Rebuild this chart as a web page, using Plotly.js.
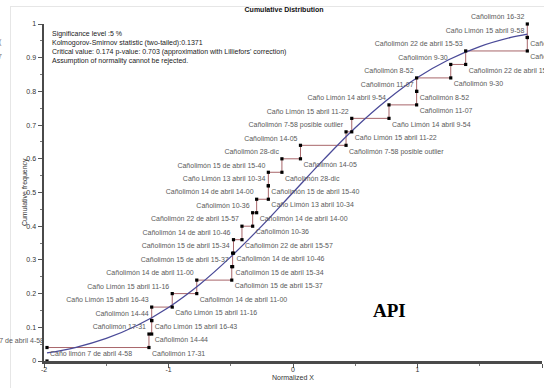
<!DOCTYPE html>
<html>
<head>
<meta charset="utf-8">
<script src="https://cdn.plot.ly/plotly-3.0.1.min.js"></script>
<style>
html,body{margin:0;padding:0;background:#fff;overflow:hidden;width:544px;height:388px}
#frame{position:absolute;left:10px;top:6px;width:600px;height:420px;border:1px solid #e6e6e6}
#chart{position:absolute;left:0;top:0;width:544px;height:388px}
</style>
</head>
<body>
<div id="frame"></div>
<div id="chart"></div>
<script>
// Observations, in increasing order of normalized value
const pointLabels = [
  "Caño limón 7 de abril 4-58",
  "Cañolimón 17-31",
  "Cañolimón 14-44",
  "Caño Limón 15 abril 16-43",
  "Caño Limón 15 abril 11-16",
  "Cañolimón 14 de abril 11-00",
  "Cañolimón 15 de abril 15-37",
  "Cañolimón 15 de abril 15-34",
  "Cañolimón 14 de abril 10-46",
  "Cañolimón 22 de abril 15-57",
  "Cañolimón 10-36",
  "Cañolimón 14 de abril 14-00",
  "Caño Limón 13 abril 10-34",
  "Cañolimón 15 de abril 15-40",
  "Cañolimón 28-dic",
  "Cañolimón 14-05",
  "Cañolimón 7-58 posible outlier",
  "Caño Limón 15 abril 11-22",
  "Caño Limón 14 abril 9-54",
  "Cañolimón 11-07",
  "Cañolimón 8-52",
  "Cañolimón 9-30",
  "Cañolimón 22 de abril 15-53",
  "Caño Limón 15 abril 9-58",
  "Cañolimón 16-32"
];
const normX = [-1.976, -1.157, -1.135, -1.135, -0.970, -0.773, -0.492, -0.485, -0.478, -0.410,
               -0.324, -0.292, -0.198, -0.198, -0.089, 0.060, 0.426, 0.472, 0.771, 0.993,
               0.993, 1.267, 1.387, 1.882, 1.882];
const cumFreq = [0.04, 0.08, 0.12, 0.16, 0.20, 0.24, 0.28, 0.32, 0.36, 0.40,
                 0.44, 0.48, 0.52, 0.56, 0.60, 0.64, 0.68, 0.72, 0.76, 0.80,
                 0.84, 0.88, 0.92, 0.96, 1.00];
const prevFreq = [0.00, 0.04, 0.08, 0.12, 0.16, 0.20, 0.24, 0.28, 0.32, 0.36,
                  0.40, 0.44, 0.48, 0.52, 0.56, 0.60, 0.64, 0.68, 0.72, 0.76,
                  0.80, 0.84, 0.88, 0.92, 0.96];
// Theoretical (normal) distribution function
const curveX = [-1.976, -1.75, -1.5, -1.25, -1.0, -0.75, -0.5, -0.25, 0.0, 0.25, 0.5, 0.75, 1.0, 1.25, 1.5, 1.75, 1.882];
const curveY = [0.024, 0.040, 0.067, 0.106, 0.159, 0.227, 0.309, 0.401, 0.500, 0.599, 0.692, 0.773, 0.841, 0.894, 0.933, 0.960, 0.970];
const statLines = [
  "Significance level :5 %",
  "Kolmogorov-Smirnov statistic (two-tailed):0.1371",
  "Critical value: 0.174 p-value: 0.703 (approximation with Lilliefors' correction)",
  "Assumption of normality cannot be rejected."
];
const xTicks = [-2, -1, 0, 1, 2];

// step function of the empirical distribution
const stepX = [normX[0]], stepY = [cumFreq[0]];
for (let i = 1; i < normX.length; i++) {
  stepX.push(normX[i]); stepY.push(prevFreq[i]);
  stepX.push(normX[i]); stepY.push(cumFreq[i]);
}
const bottomPos = normX.map((v, i) => i === 0 ? 'top right' : 'bottom right');

const FONT = 'Liberation Sans, Arial, sans-serif';
const labelFont = {family: FONT, size: 7, color: '#5a5a5a'};

const traces = [
  {x: stepX, y: stepY, mode: 'lines', line: {color: '#a8666a', width: 1}, hoverinfo: 'skip', cliponaxis: false},
  {x: curveX, y: curveY, mode: 'lines', line: {color: '#4a4a98', width: 1.3, shape: 'spline'}, hoverinfo: 'skip'},
  {x: normX, y: cumFreq, mode: 'markers+text', text: pointLabels, textposition: 'top left',
   textfont: labelFont, marker: {symbol: 'square', size: 3.2, color: '#000'}, cliponaxis: false},
  {x: normX, y: prevFreq, mode: 'markers+text', text: pointLabels, textposition: bottomPos,
   textfont: labelFont, marker: {symbol: 'square', size: 3.2, color: '#000'}, cliponaxis: false}
];

const axisCommon = {
  showgrid: false, zeroline: false, showline: true, linecolor: '#4a4a4a', linewidth: 2.5,
  ticks: 'outside', ticklen: 4, tickwidth: 1, tickcolor: '#555',
  tickfont: {family: FONT, size: 7, color: '#333'}, fixedrange: true
};

const layout = {
  width: 544, height: 388,
  margin: {l: 44, r: 2, t: 24, b: 27},
  paper_bgcolor: 'rgba(0,0,0,0)', plot_bgcolor: 'rgba(0,0,0,0)',
  showlegend: false,
  title: {text: '<b>Cumulative Distribution</b>', font: {family: FONT, size: 7, color: '#111'},
          xref: 'paper', x: 0.482, xanchor: 'center', yref: 'container', y: 0.975, yanchor: 'middle'},
  xaxis: Object.assign({}, axisCommon, {range: [-2, 2], tickvals: xTicks, ticktext: xTicks.map(String),
          ticklabelstandoff: -4,
          minor: {dtick: 0.5, tick0: -2, ticks: 'outside', ticklen: 2, tickcolor: '#777'}}),
  yaxis: Object.assign({}, axisCommon, {range: [0, 1], dtick: 0.1, tick0: 0,
          minor: {dtick: 0.05, tick0: 0, ticks: 'outside', ticklen: 2, tickcolor: '#777'}}),
  annotations: [
    {text: statLines.join('<br>'), xref: 'paper', yref: 'paper', x: 0.012, y: 0.988,
     xanchor: 'left', yanchor: 'top', align: 'left', showarrow: false,
     font: {family: FONT, size: 7, color: '#1a1a1a'}},
    {text: 'Cumulative frequency', xref: 'paper', yref: 'paper', x: -0.039, y: 0.5, textangle: -90,
     xanchor: 'center', yanchor: 'middle', showarrow: false, font: {family: FONT, size: 7, color: '#333'}},
    {text: 'Normalized X', xref: 'paper', yref: 'paper', x: 0.5, y: -0.049,
     xanchor: 'center', yanchor: 'middle', showarrow: false, font: {family: FONT, size: 7, color: '#333'}},
    {text: '<b>API</b>', xref: 'paper', yref: 'paper', x: 0.693, y: 0.151,
     xanchor: 'center', yanchor: 'middle', showarrow: false,
     font: {family: 'Liberation Serif, Times New Roman, serif', size: 19, color: '#000'}},
    {text: '(', xref: 'paper', yref: 'paper', x: -0.080, y: 0.947, xanchor: 'right', yanchor: 'middle',
     showarrow: false, font: {family: FONT, size: 7, color: '#777'}},
    {text: '7', xref: 'paper', yref: 'paper', x: -0.080, y: 0.903, xanchor: 'right', yanchor: 'middle',
     showarrow: false, font: {family: FONT, size: 7, color: '#777'}}
  ]
};

Plotly.newPlot('chart', traces, layout, {displayModeBar: false, staticPlot: true});
</script>
</body>
</html>
